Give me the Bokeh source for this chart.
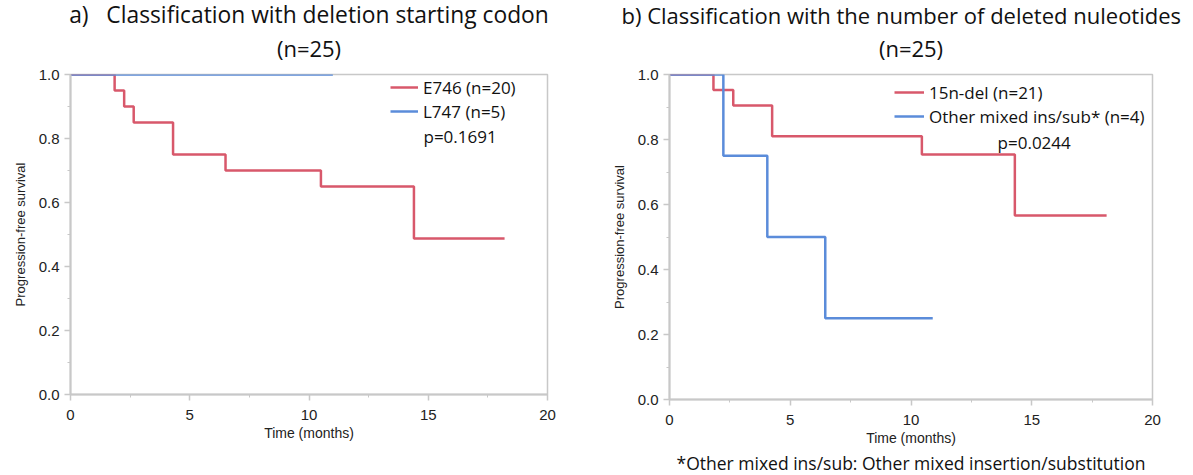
from bokeh.plotting import figure
from bokeh.models import Legend, LegendItem, Label, Title, FixedTicker, Range1d, CustomJSTickFormatter
from bokeh.layouts import row
from bokeh.embed import file_html
from bokeh.resources import INLINE

# ---- data (Kaplan-Meier step curves) ----
# Panel a
a_e746_time = [0, 1.85, 2.25, 2.65, 4.3, 6.5, 10.5, 14.4, 18.2]
a_e746_surv = [1.0, 0.95, 0.90, 0.85, 0.75, 0.70, 0.65, 0.4875, 0.4875]
a_l747_time = [0, 11.0]
a_l747_surv = [1.0, 1.0]
# Panel b
b_del_time = [0, 1.82, 2.64, 4.25, 10.45, 14.3, 18.1]
b_del_surv = [1.0, 0.952, 0.905, 0.81, 0.754, 0.566, 0.566]
b_oth_time = [0, 2.23, 4.05, 6.45, 10.9]
b_oth_surv = [1.0, 0.75, 0.50, 0.25, 0.25]

x_ticks = [0, 5, 10, 15, 20]
y_ticks = [0.0, 0.2, 0.4, 0.6, 0.8, 1.0]

RED = "#D8586B"
BLUE = "#5B8CDA"
GRID = "#C8C8C8"
AX_FONT = "Liberation Sans"
TXT_FONT = "Open Sans"
TOP = 74
BOTTOM = 74
NB = "\u00a0"


def make_fig(width, height, border_left, border_right):
    p = figure(width=width, height=height, output_backend="svg", toolbar_location=None,
               x_range=Range1d(0, 20), y_range=Range1d(0, 1.0),
               min_border_left=border_left, min_border_right=border_right,
               min_border_top=TOP, min_border_bottom=BOTTOM)
    p.outline_line_color = GRID
    p.outline_line_width = 1.5
    p.grid.visible = False
    for ax in (p.xaxis, p.yaxis):
        ax.axis_line_color = GRID
        ax.axis_line_width = 2
        ax.major_tick_line_color = GRID
        ax.minor_tick_line_color = GRID
        ax.major_tick_line_width = 1.5
        ax.major_tick_in = 0
        ax.major_tick_out = 6
        ax.minor_tick_in = 0
        ax.minor_tick_out = 3
        ax.major_label_text_font = AX_FONT
        ax.major_label_text_font_size = "15px"
        ax.major_label_text_color = "#222222"
        ax.axis_label_text_font = AX_FONT
        ax.axis_label_text_font_style = "normal"
        ax.axis_label_text_color = "#222222"
    p.xaxis.axis_label_text_font_size = "14px"
    p.yaxis.axis_label_text_font_size = "13px"
    p.xaxis.ticker = FixedTicker(ticks=x_ticks, minor_ticks=[2.5, 7.5, 12.5, 17.5])
    p.yaxis.ticker = FixedTicker(ticks=y_ticks, minor_ticks=[0.1, 0.3, 0.5, 0.7, 0.9])
    p.yaxis.formatter = CustomJSTickFormatter(code="return tick.toFixed(1);")
    p.xaxis.axis_label = "Time (months)"
    p.yaxis.axis_label = "Progression-free survival"
    p.xaxis.major_label_standoff = 9
    p.xaxis.axis_label_standoff = 2
    p.yaxis.major_label_standoff = 5
    p.yaxis.axis_label_standoff = 8
    return p


def add_titles(p, line1, line2, size1, align1="center", offset1=0):
    t2 = Title(text=line2, align="center", vertical_align="middle", text_font=TXT_FONT,
               text_font_size="22px", text_font_style="normal", text_color="#111111",
               standoff=22)
    t1 = Title(text=line1, align=align1, offset=offset1, vertical_align="middle",
               text_font=TXT_FONT, text_font_size=size1, text_font_style="normal",
               text_color="#111111", standoff=-20)
    p.add_layout(t2, "above")
    p.add_layout(t1, "above")


# ---- panel a ----
pa = make_fig(608, 395 + BOTTOM, 70, 61)
add_titles(pa, "a)" + NB * 3 + "Classification with deletion starting codon", "(n=25)", "22.8px")
ra = pa.step(a_e746_time, a_e746_surv, mode="after", line_color=RED, line_width=2.5)
ba = pa.step(a_l747_time, a_l747_surv, mode="after", line_color=BLUE, line_width=2.5)
leg_a = Legend(items=[LegendItem(label="E746 (n=20)", renderers=[ra]),
                      LegendItem(label="L747 (n=5)", renderers=[ba])],
               location=(320, 271), padding=0, margin=0, spacing=0,
               label_height=24, glyph_height=24, glyph_width=28, label_standoff=5,
               border_line_alpha=0, background_fill_alpha=0,
               label_text_font=TXT_FONT, label_text_font_size="17px", label_text_color="#111111")
pa.add_layout(leg_a)
pa.add_layout(Label(x=14.8, y=0.807, text="p=0.1691", text_font=TXT_FONT,
                    text_font_size="17px", text_color="#111111", text_baseline="middle",
                    text_align="left"))

# ---- panel b ----
pb = make_fig(577, 400 + BOTTOM, 60, 33)
add_titles(pb, "b) Classification with the number of deleted nuleotides", "(n=25)", "22px",
           align1="left", offset1=-48)
rb = pb.step(b_del_time, b_del_surv, mode="after", line_color=RED, line_width=2.5)
bb = pb.step(b_oth_time, b_oth_surv, mode="after", line_color=BLUE, line_width=2.5)
leg_b = Legend(items=[LegendItem(label="15n-del (n=21)", renderers=[rb]),
                      LegendItem(label="Other mixed ins/sub* (n=4)", renderers=[bb])],
               location=(225, 271), padding=0, margin=0, spacing=0,
               label_height=24, glyph_height=24, glyph_width=30, label_standoff=5,
               border_line_alpha=0, background_fill_alpha=0,
               label_text_font=TXT_FONT, label_text_font_size="17px", label_text_color="#111111")
pb.add_layout(leg_b)
pb.add_layout(Label(x=15.1, y=0.791, text="p=0.0244", text_font=TXT_FONT,
                    text_font_size="17px", text_color="#111111", text_baseline="middle",
                    text_align="center"))
pb.add_layout(Title(text="*Other mixed ins/sub: Other mixed insertion/substitution",
                    align="center", text_font=TXT_FONT, text_font_size="17.5px",
                    text_font_style="normal", text_color="#111111", standoff=0), "below")

layout = row(pa, pb)
open("out.html", "w").write(file_html(layout, INLINE))
